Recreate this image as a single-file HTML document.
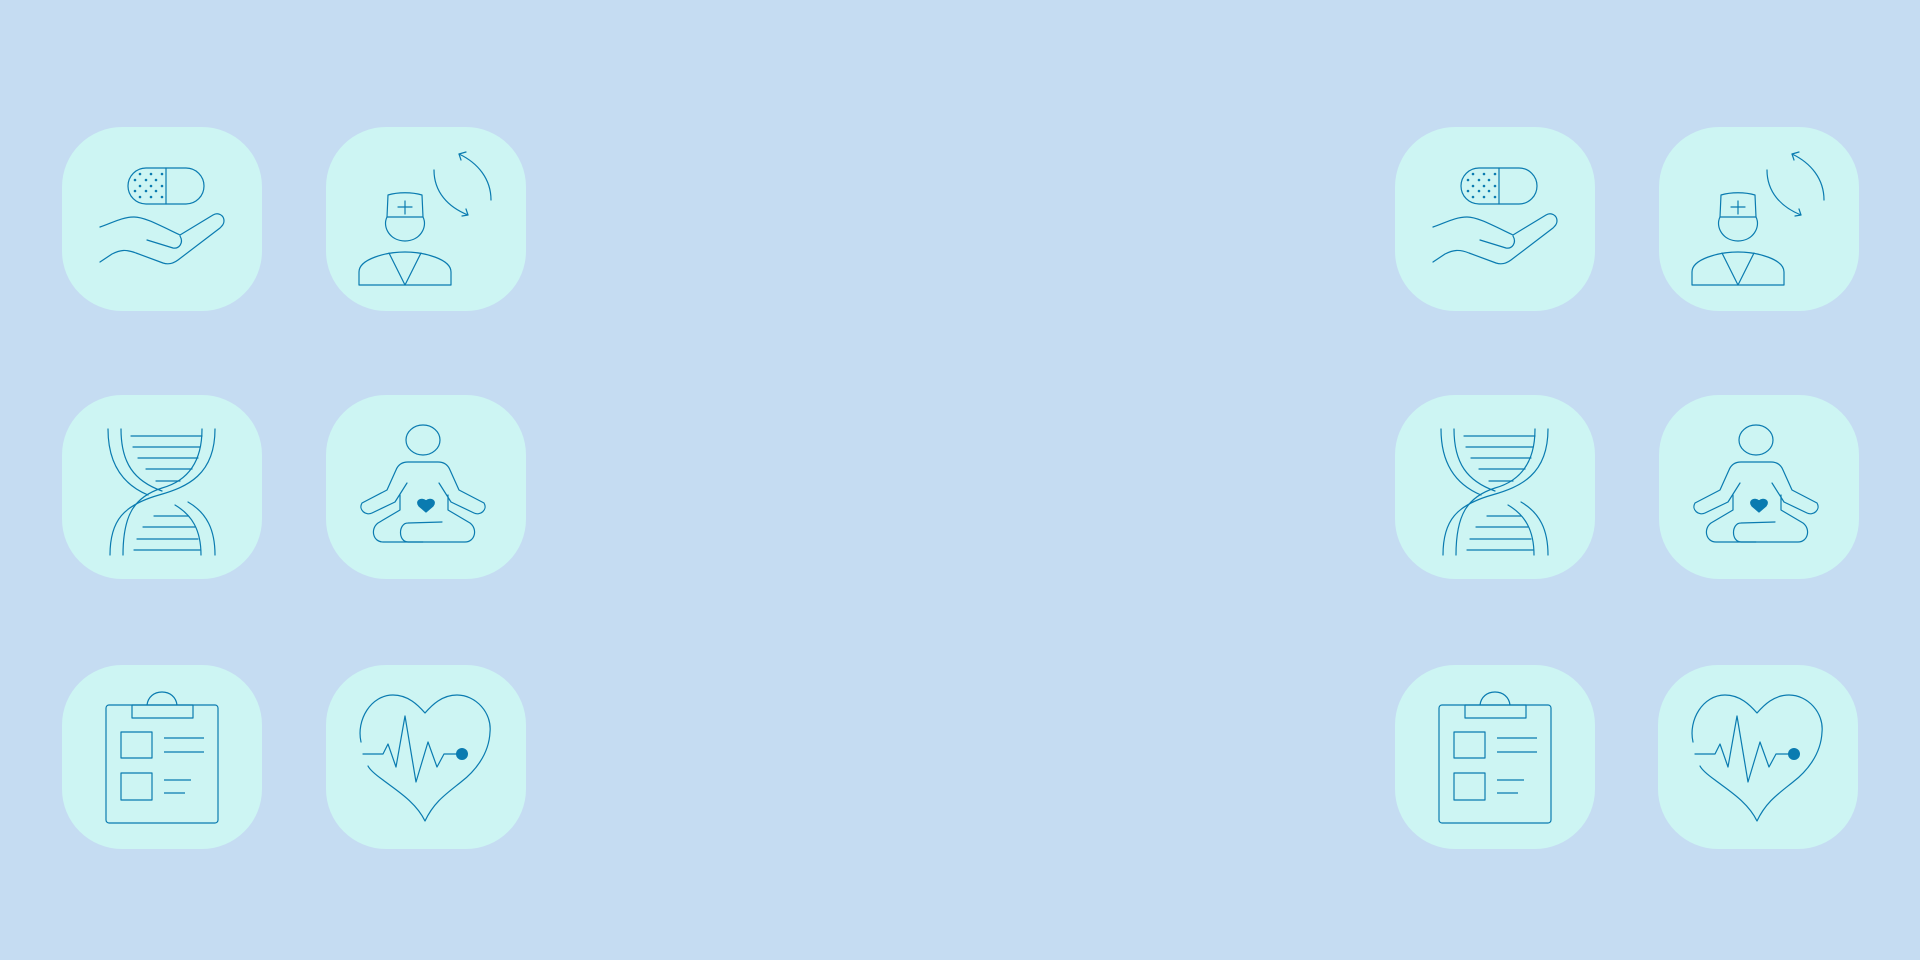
<!DOCTYPE html>
<html><head><meta charset="utf-8"><style>
html,body{margin:0;padding:0;background:#c5dcf2;}
svg{display:block}
</style></head><body>
<svg width="1920" height="960" viewBox="0 0 1920 960">
<defs>
<g id="tile"><rect x="0" y="0" width="200" height="184" rx="60" ry="60" fill="#cdf5f3"/></g>
<g id="pill-hand" fill="none" stroke="#0a7bb0" stroke-width="1.2" stroke-linecap="round" stroke-linejoin="round">
<rect x="66" y="41" width="76" height="36" rx="18"/>
<line x1="104" y1="41" x2="104" y2="77"/>
<g fill="#0a7bb0" stroke="none">
<circle cx="78" cy="47" r="1.3"/><circle cx="89" cy="47" r="1.3"/><circle cx="100" cy="47" r="1.3"/>
<circle cx="73" cy="53" r="1.3"/><circle cx="84" cy="53" r="1.3"/><circle cx="94" cy="53" r="1.3"/>
<circle cx="78" cy="59" r="1.3"/><circle cx="89" cy="59" r="1.3"/><circle cx="100" cy="59" r="1.3"/>
<circle cx="73" cy="64" r="1.3"/><circle cx="84" cy="64" r="1.3"/><circle cx="94" cy="64" r="1.3"/>
<circle cx="78" cy="70" r="1.3"/><circle cx="89" cy="70" r="1.3"/><circle cx="100" cy="70" r="1.3"/>
</g>
<path d="M38,100 C50,96 60,90 72,90 C82,90 95,97 118,108 L151,88 C156,85 162,88 162,94 C162,97 160,99 158,101 L116,133 C112,136 107,138 101,136 L74,126 C64,122 58,123 50,127 L38,135"/>
<path d="M85,113 L111,121 C117,122 122,116 118,109"/>
</g>
<g id="doctor" fill="none" stroke="#0a7bb0" stroke-width="1.2" stroke-linecap="round" stroke-linejoin="round">
<path d="M62,68 C72,65 86,65 96,68 L97,90 L61,90 Z"/>
<line x1="79" y1="74" x2="79" y2="87"/><line x1="72" y1="80" x2="86" y2="80"/>
<path d="M61,90 C56,100 64,114 79,114 C94,114 102,100 97,90"/>
<path d="M33,158 L33,145 C33,132 60,125 79,125 C98,125 125,132 125,145 L125,158 Z"/>
<path d="M63,126 L79,158 L95,126"/>
<path d="M108,43 C108,65 122,80 142,88"/><path d="M136,89 L142,88 L140,82"/>
<path d="M165,73 C165,52 152,36 133,27"/><path d="M140,25 L133,27 L135,33"/>
</g>
<g id="dna" fill="none" stroke="#0a7bb0" stroke-width="1.2" stroke-linecap="round">
<path d="M153,34 C153,80 125,92 97,100 C62,110 48,125 48,160"/>
<path d="M140,34 C140,75 118,88 100,93 C72,102 61,120 61,160"/>
<path d="M46,34 C46,70 62,90 86,100"/>
<path d="M59,34 C59,68 72,86 100,96"/>
<path d="M126,107 C145,118 153,135 153,160"/>
<path d="M113,110 C130,120 139,135 139,160"/>
<line x1="69" y1="41" x2="140" y2="41"/><line x1="71" y1="52" x2="138" y2="52"/>
<line x1="76" y1="63" x2="136" y2="63"/><line x1="84" y1="74" x2="130" y2="74"/>
<line x1="94" y1="86" x2="118" y2="86"/>
<line x1="92" y1="121" x2="126" y2="121"/><line x1="81" y1="132" x2="133" y2="132"/>
<line x1="75" y1="144" x2="136" y2="144"/><line x1="72" y1="155" x2="138" y2="155"/>
</g>
<g id="meditate" fill="none" stroke="#0a7bb0" stroke-width="1.2" stroke-linecap="round" stroke-linejoin="round">
<ellipse cx="97" cy="45" rx="17" ry="15"/>
<path d="M81,88 L69,107 L46,118 C40,121 32,115 36,108 L61,95 L70,75 C72,70 76,67 82,67 L112,67 C118,67 122,70 124,75 L133,95 L158,108 C162,115 154,121 148,118 L125,107 L113,88"/>
<path d="M74,100 L74,115 L52,128 C44,134 47,147 57,147 L97,147"/>
<path d="M122,100 L122,115 L144,128 C152,134 149,147 139,147 L82,147 C72,147 72,128 82,128 L116,127"/>
<path d="M100,117 L93,111 C89,106 95,102 100,106 C105,102 111,106 107,111 Z" fill="#0a7bb0"/>
</g>
<g id="clipboard" fill="none" stroke="#0a7bb0" stroke-width="1.2" stroke-linejoin="round">
<rect x="44" y="40" width="112" height="118" rx="3"/>
<rect x="70" y="40" width="61" height="13"/>
<path d="M85,40 C86,32 92,27 100,27 C108,27 114,32 115,40"/>
<rect x="59" y="67" width="31" height="26"/>
<rect x="59" y="108" width="31" height="27"/>
<line x1="102" y1="73" x2="142" y2="73"/><line x1="102" y1="87" x2="142" y2="87"/>
<line x1="102" y1="115" x2="129" y2="115"/><line x1="102" y1="128" x2="123" y2="128"/>
</g>
<g id="heart-ecg" fill="none" stroke="#0a7bb0" stroke-width="1.2" stroke-linejoin="round" stroke-linecap="round">
<path d="M35,77 C30,55 45,30 67,30 C82,30 92,40 99,48 C106,40 116,30 131,30 C150,30 166,48 164,67 C163,90 148,107 135,117 C120,129 108,137 99,156 C90,137 70,125 57,115 C50,110 44,105 42,101"/>
<path d="M37,89 L57,89 L62,79 L70,102 L79,51 L90,117 L102,77 L111,102 L118,89 L132,89"/>
<circle cx="136" cy="89" r="6" fill="#0a7bb0" stroke="none"/>
</g>
</defs>

<g>
<g transform="translate(62,127)"><use href="#tile"/><use href="#pill-hand"/></g>
<g transform="translate(326,127)"><use href="#tile"/><use href="#doctor"/></g>
<g transform="translate(62,395)"><use href="#tile"/><use href="#dna"/></g>
<g transform="translate(326,395)"><use href="#tile"/><use href="#meditate"/></g>
<g transform="translate(62,665)"><use href="#tile"/><use href="#clipboard"/></g>
<g transform="translate(326,665)"><use href="#tile"/><use href="#heart-ecg"/></g>
</g>
<g>
<g transform="translate(1395,127)"><use href="#tile"/><use href="#pill-hand"/></g>
<g transform="translate(1659,127)"><use href="#tile"/><use href="#doctor"/></g>
<g transform="translate(1395,395)"><use href="#tile"/><use href="#dna"/></g>
<g transform="translate(1659,395)"><use href="#tile"/><use href="#meditate"/></g>
<g transform="translate(1395,665)"><use href="#tile"/><use href="#clipboard"/></g>
<g transform="translate(1658,665)"><use href="#tile"/><use href="#heart-ecg"/></g>
</g>
</svg>
</body></html>
